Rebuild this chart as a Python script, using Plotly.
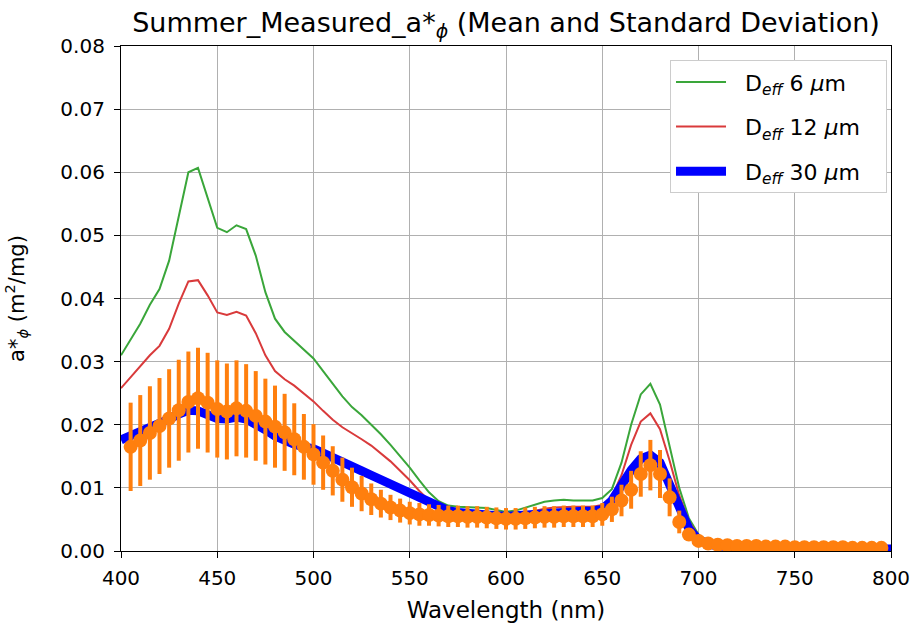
import plotly.graph_objects as go

# Model wavelengths (nm)
wl_model = [400, 405, 410, 415, 420, 425, 430, 435, 440, 445, 450, 455, 460, 465, 470, 475,
            480, 485, 490, 495, 500, 505, 510, 515, 520, 525, 530, 535, 540, 545, 550, 555,
            560, 565, 570, 575, 580, 585, 590, 595, 600, 605, 610, 615, 620, 625, 630, 635,
            640, 645, 650, 655, 660, 665, 670, 675, 680, 685, 690, 695, 700, 705, 710, 715,
            720, 725, 730, 735, 740, 745, 750, 755, 760, 765, 770, 775, 780, 785, 790, 795, 800]

d6 = [0.0310, 0.0335, 0.0360, 0.0390, 0.0415, 0.0460, 0.0530, 0.0600, 0.0607, 0.0560, 0.0512,
      0.0505, 0.0516, 0.0510, 0.0468, 0.0410, 0.0368, 0.0347, 0.0333, 0.0320, 0.0305, 0.0285,
      0.0265, 0.0245, 0.0228, 0.0215, 0.0200, 0.0185, 0.0168, 0.0150, 0.0132, 0.0112, 0.0093,
      0.0079, 0.0072, 0.0070, 0.0069, 0.0068, 0.0068, 0.0065, 0.0062, 0.0064, 0.0069, 0.0074,
      0.0078, 0.0080, 0.0081, 0.0080, 0.0080, 0.0080, 0.0084, 0.0098, 0.0140, 0.0200, 0.0248,
      0.0265, 0.0232, 0.0168, 0.0100, 0.0052, 0.0026, 0.0015, 0.0010, 0.0008, 0.0007, 0.0006,
      0.0006, 0.0006, 0.0005, 0.0005, 0.0005, 0.0005, 0.0005, 0.0004, 0.0004, 0.0004, 0.0004,
      0.0004, 0.0004, 0.0004, 0.0004]

d12 = [0.0258, 0.0275, 0.0292, 0.0310, 0.0325, 0.0352, 0.0392, 0.0427, 0.0429, 0.0405, 0.0378,
       0.0374, 0.0379, 0.0373, 0.0345, 0.0310, 0.0285, 0.0272, 0.0262, 0.0250, 0.0237, 0.0222,
       0.0208, 0.0196, 0.0187, 0.0177, 0.0167, 0.0155, 0.0142, 0.0127, 0.0112, 0.0095, 0.0080,
       0.0068, 0.0063, 0.0061, 0.0060, 0.0059, 0.0058, 0.0056, 0.0054, 0.0056, 0.0060, 0.0064,
       0.0067, 0.0069, 0.0070, 0.0070, 0.0070, 0.0070, 0.0073, 0.0086, 0.0120, 0.0168, 0.0205,
       0.0218, 0.0193, 0.0143, 0.0088, 0.0047, 0.0024, 0.0014, 0.0009, 0.0007, 0.0006, 0.0006,
       0.0005, 0.0005, 0.0005, 0.0005, 0.0004, 0.0004, 0.0004, 0.0004, 0.0004, 0.0004, 0.0004,
       0.0004, 0.0003, 0.0003, 0.0003]

d30 = [0.0176, 0.0182, 0.0188, 0.0195, 0.0202, 0.0209, 0.0217, 0.0223, 0.0222, 0.0215, 0.0210,
       0.0209, 0.0212, 0.0209, 0.0202, 0.0192, 0.0182, 0.0174, 0.0169, 0.0165, 0.0162, 0.0155,
       0.0147, 0.0139, 0.0133, 0.0127, 0.0120, 0.0113, 0.0107, 0.0100, 0.0093, 0.0085, 0.0077,
       0.0069, 0.0064, 0.0061, 0.0059, 0.0058, 0.0057, 0.0056, 0.0055, 0.0056, 0.0059, 0.0061,
       0.0062, 0.0063, 0.0063, 0.0063, 0.0063, 0.0063, 0.0066, 0.0080, 0.0105, 0.0128, 0.0146,
       0.0152, 0.0140, 0.0105, 0.0066, 0.0035, 0.0018, 0.0011, 0.0008, 0.0007, 0.0006, 0.0005,
       0.0005, 0.0005, 0.0005, 0.0004, 0.0004, 0.0004, 0.0004, 0.0004, 0.0004, 0.0004, 0.0004,
       0.0004, 0.0003, 0.0003, 0.0003]

# Measured wavelengths (nm), mean and standard deviation
wl_meas = [405, 410, 415, 420, 425, 430, 435, 440, 445, 450, 455, 460, 465, 470, 475, 480,
           485, 490, 495, 500, 505, 510, 515, 520, 525, 530, 535, 540, 545, 550, 555, 560,
           565, 570, 575, 580, 585, 590, 595, 600, 605, 610, 615, 620, 625, 630, 635, 640,
           645, 650, 655, 660, 665, 670, 675, 680, 685, 690, 695, 700, 705, 710, 715, 720,
           725, 730, 735, 740, 745, 750, 755, 760, 765, 770, 775, 780, 785, 790, 795]

meas_mean = [0.0165, 0.0175, 0.0187, 0.0198, 0.0210, 0.0223, 0.0236, 0.0242, 0.0235, 0.0225,
             0.0221, 0.0226, 0.0222, 0.0214, 0.0205, 0.0197, 0.0188, 0.0177, 0.0165, 0.0153,
             0.0140, 0.0127, 0.0113, 0.0101, 0.0091, 0.0082, 0.0075, 0.0069, 0.0064, 0.0060,
             0.0058, 0.0057, 0.0056, 0.0055, 0.0055, 0.0054, 0.0054, 0.0053, 0.0052, 0.0051,
             0.0051, 0.0052, 0.0053, 0.0054, 0.0054, 0.0055, 0.0055, 0.0055, 0.0055, 0.0058,
             0.0066, 0.0080, 0.0097, 0.0122, 0.0136, 0.0122, 0.0085, 0.0046, 0.0026, 0.0016,
             0.0012, 0.0010, 0.0009, 0.0008, 0.0008, 0.0008, 0.0007, 0.0007, 0.0007, 0.0006,
             0.0006, 0.0006, 0.0006, 0.0006, 0.0006, 0.0005, 0.0005, 0.0005, 0.0005]

meas_std = [0.0070, 0.0072, 0.0074, 0.0076, 0.0078, 0.0080, 0.0080, 0.0080, 0.0079, 0.0077,
            0.0076, 0.0076, 0.0074, 0.0071, 0.0068, 0.0065, 0.0061, 0.0057, 0.0052, 0.0048,
            0.0043, 0.0039, 0.0035, 0.0031, 0.0028, 0.0025, 0.0022, 0.0020, 0.0019, 0.0018,
            0.0018, 0.0017, 0.0017, 0.0017, 0.0017, 0.0017, 0.0017, 0.0017, 0.0017, 0.0017,
            0.0017, 0.0017, 0.0017, 0.0017, 0.0017, 0.0017, 0.0017, 0.0017, 0.0017, 0.0018,
            0.0020, 0.0025, 0.0030, 0.0036, 0.0040, 0.0038, 0.0030, 0.0018, 0.0010, 0.0006,
            0.0004, 0.0003, 0.0003, 0.0003, 0.0003, 0.0003, 0.0003, 0.0003, 0.0003, 0.0003,
            0.0003, 0.0003, 0.0003, 0.0003, 0.0003, 0.0003, 0.0003, 0.0003, 0.0003]

x_ticks = [400, 450, 500, 550, 600, 650, 700, 750, 800]
y_ticks = [0.00, 0.01, 0.02, 0.03, 0.04, 0.05, 0.06, 0.07, 0.08]

FONT = "DejaVu Sans"
SP = "\u00a0"

fig = go.Figure()
fig.add_trace(go.Scatter(x=wl_model, y=d6, mode="lines",
                         name=SP * 2 + "D<sub><i>eff</i></sub> 6 <i>μ</i>m" + SP * 3,
                         line=dict(color="#3aa63a", width=2), legendgroup="a"))
fig.add_trace(go.Scatter(x=wl_model, y=d12, mode="lines",
                         name=SP * 2 + "D<sub><i>eff</i></sub> 12 <i>μ</i>m" + SP * 3,
                         line=dict(color="#d93a3b", width=2), legendgroup="b"))
fig.add_trace(go.Scatter(x=wl_model, y=d30, mode="lines",
                         name=SP * 2 + "D<sub><i>eff</i></sub> 30 <i>μ</i>m" + SP * 3,
                         line=dict(color="#0000ff", width=9), legendgroup="c"))
fig.add_trace(go.Scatter(x=wl_meas, y=meas_mean, mode="markers", showlegend=False,
                         marker=dict(color="#ff7f0e", size=14, line=dict(width=0)),
                         error_y=dict(type="data", array=meas_std, color="#ff7f0e",
                                      thickness=4, width=0)))

axis_common = dict(showline=True, linecolor="black", linewidth=1.2, mirror=True,
                   ticks="outside", ticklen=6, tickcolor="black", automargin=False,
                   showgrid=True, gridcolor="#b0b0b0", gridwidth=1, zeroline=False,
                   tickfont=dict(family=FONT, size=20, color="black"))

fig.update_layout(
    width=914, height=628,
    margin=dict(l=121, r=23, t=46, b=77),
    paper_bgcolor="white", plot_bgcolor="white",
    font=dict(family=FONT, color="black"),
    title=dict(text="Summer_Measured_a*<sub><i>ϕ</i></sub> (Mean and Standard Deviation)",
               x=0.5, xref="paper", xanchor="center",
               y=1, yref="paper", yanchor="bottom", pad=dict(b=14),
               font=dict(family=FONT, size=27, color="black")),
    xaxis=dict(range=[400, 800], tickvals=x_ticks, ticklabelstandoff=3,
               title=dict(text="Wavelength (nm)", font=dict(family=FONT, size=23), standoff=12),
               **axis_common),
    yaxis=dict(range=[0, 0.08], tickvals=y_ticks, tickformat=".2f", ticklabelstandoff=5,
               title=dict(text="a*<sub><i>ϕ</i></sub> (m<sup>2</sup>/mg)",
                          font=dict(family=FONT, size=21), standoff=30), **axis_common),
    legend=dict(x=0.713, xanchor="left", y=0.972, yanchor="top",
                bgcolor="white", bordercolor="#cccccc", borderwidth=1,
                font=dict(family=FONT, size=22, color="black"),
                tracegroupgap=13, itemwidth=50),
    showlegend=True,
)

fig.write_html("out.html")
